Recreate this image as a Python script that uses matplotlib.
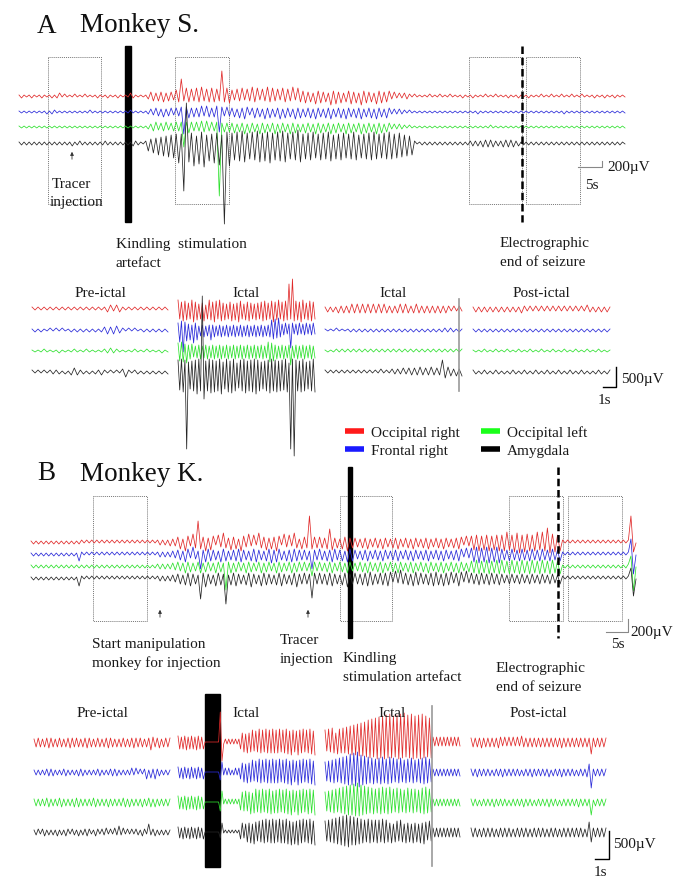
import numpy as np
import matplotlib
matplotlib.use('Agg')
import matplotlib.pyplot as plt
from matplotlib.patches import Rectangle

plt.rcParams['font.family'] = ['Liberation Serif', 'DejaVu Serif']

COLORS = ['#e02a2a', '#2a2ad8', '#2ee02e', '#262626']
LEGEND_COLORS = ['#ff1a1a', '#1a1aff', '#1aff1a', '#000000']
CHANNELS = ['Occipital right', 'Frontal right', 'Occipital left', 'Amygdala']
WINDOW_LABELS = ['Pre-ictal', 'Ictal', 'Ictal', 'Post-ictal']

# Each character is one peak of a trace: its height in pixels (base 36, 'a' = 10).
# Even peaks point up, odd peaks point down.
# Spikes: (channel, peak index, signed height) override single peaks.

# ---- Monkey S., whole recording (red, blue, green, black), 240 peaks each
A_LONG = [
    "12111211121112123121" "11211121111211121112" "1" "1113211111"
    "345354635446" "675867586957686759687" "6475847596847596857486759486"
    "57463857463958473658473957463857465" "34232332121"
    "11112111211121111211" "12111121112111121112" "11121111211121112111"
    "21112111121112111211" "11",
    "11111111111212211111" "11111111211111111111" "1" "1112111111"
    "233443534434" "454564545646545645454" "4536475346453746354736453746"
    "35463745364735463745364735463745364" "23232212111"
    "11111111111111111111" "11121111111111111111" "11111111111111111211"
    "11111111111111111111" "11",
    "11111111111111111111" "11111111111111111111" "1" "1111111111"
    "234534453445" "454565454656454564545" "4635473645374635473645374635"
    "36453746354736453746354736453746354" "23232212111"
    "11111111111111111111" "11111111211111111111" "11111111111111111111"
    "11111111111111111111" "11",
    "12121212121212121212" "13122212121212221212" "1" "2121322112"
    "84a5c6d7e8f9" "k9m8jan7lbo8i9kam8lbn" "ahbicjagbhcjaibkahbicjagbhdj"
    "9gahbf9hagbi8g9haf9gbh8f9gahbg9fagb" "g9fae8d7c21"
    "12121212121212121212" "23232434342324343423" "12121212121212121212"
    "12121212121212121212" "11",
]
A_LONG_SPIKES = [(0, 64, 17), (0, 80, 25), (1, 65, -22), (1, 79, -20),
                 (2, 65, -20), (2, 79, -69), (3, 65, -48), (3, 66, 40),
                 (3, 81, -81)]

# ---- Monkey S., four 1 s-scale windows
A_PRE = [
    "2121212121212121212121212342432121212121212121",
    "1212112121211212121212123434432121211212121212",
    "1111211112111121112111112232211111211121111211",
    "2121212222121343221212232121213521221212121212",
]
A_ICTAL1 = [
    "9a7c8b6a9d" "7b5a6c4a9b" "7d8a9c6b5a" "7c5b6d8a5b"
    "7c6a5b6a7c" "8b6a8d7b9a" "7c8b6a9c8b" "7d9a6b8c7a",
    "7c9e8b6a5d" "7a4657465a" "5746574657" "4657465746"
    "5746574657" "4657a9b8c7" "6574657465" "7465746574",
    "8a9b7c6876" "5768576857" "6857685768" "5768576857"
    "6857685768" "579b8a6857" "6857685768" "5768576857",
    "cidkcjahbj" "cmdj9fbjdl" "ckbjdmahdk" "bldj9gcjdl"
    "bjckdmcjah" "bjcldjckbj" "cidk9fdlcj" "bkdjahbjdk",
]
A_ICTAL1_SPIKES = [(0, 64, 25), (0, 66, 30), (1, 3, -22), (1, 65, -18),
                   (2, 65, -14), (3, 5, -77), (3, 14, 76), (3, 15, -27),
                   (3, 65, -77), (3, 67, -84)]
A_ICTAL2 = [
    "2323243434545454545454543434545434543434343434323232",
    "1111211112121212121212121212121212121212122222121",
    "1111212121212121212121212121212121212121212121212",
    "21212121212121212121312132324243435343534354543434",
]
A_ICTAL2_SPIKES = [(3, 42, 12), (3, 43, -6)]
A_POST = [
    "2323232323232323243232323232323232323232432323232",
    "1212121212121212121212121212121212121212121212121",
    "1111211121112111211121112111211121112111211121111",
    "2212221222121222122212221222122212221222121222122",
]

# ---- Monkey K., whole recording, 240 peaks each
B_LONG = [
    "12121212121212121212" "21212121212121212121" "2121212121" "23232434"
    "57396486375948637596" "48573965847396584759" "6385749637" "564756"
    "56475846375946" "45364735463745364735" "46374536473546374536" "475364"
    "687968796879" "79a87a9b7a8979a8a97b8a79" "21212121212121212121212121"
    "2121",
    "12121212121212121217" "21212121212121212121" "2121212121" "23232334"
    "46385475364857463857" "36475846375846375948" "5637485746" "463746"
    "56374856473857" "45364735463745364735" "46374536473546374536" "475364"
    "687968796879" "564756475647564756475647" "21212121212121212121212121"
    "2121",
    "12121212121212121212" "12121212121212121212" "1212121212" "23232334"
    "45374635473645374635" "47364537463547364537" "4635473645" "453645"
    "45364735463745" "35463745364735463745" "36473546374536473546" "374536"
    "576857685768" "675867586758675867586758" "12121212121212121212121212"
    "2121",
    "12121212121212121218" "21212121212121212121" "2121212121" "23232334"
    "46375846375946385746" "37584637594638574637" "5846375946" "564756"
    "56475846375946" "56475867465758647586" "57486756475867485765" "586475"
    "564756475647" "453645364536453645364536" "21212121212121212121212121"
    "2121",
]
B_LONG_SPIKES = [(0, 66, 21), (0, 110, 26), (0, 118, 13), (0, 204, 14),
                 (1, 67, -15), (1, 111, -15), (2, 77, -24), (2, 111, -10),
                 (3, 67, -21), (3, 77, -26), (3, 111, -20),
                 (0, 237, 26), (0, 238, -10), (1, 237, 15), (1, 238, -20),
                 (2, 237, 10), (2, 238, -25), (3, 237, 10), (3, 238, -18)]

# ---- Monkey K., four 1 s-scale windows
B_PRE = [
    "3545354645" "3545354645" "4535464535" "4535464535" "3545354645" "4535485546" "35454",
    "2323233434" "2323342323" "2434232323" "3423233434" "2323234342" "3237263734" "23232",
    "3434344534" "3445343435" "4534343445" "3434353434" "3445353434" "3534453534" "34343",
    "2332342323" "2423243233" "2423343224" "3233423243" "6342323233" "2432833423" "23232",
]
B_ICTAL1 = [
    "6757685767586757" "000000000" "22" "2323232323"
    "79a8b9ac9b" "adbcadbcbd" "bcbdacbdcb" "dcabdcbdac" "bdcbd",
    "5647564756475647" "000000000" "8a" "3434323434"
    "79a8b9ac9b" "adbcadbcbd" "bcbdacbdcb" "dcabdcbdac" "bdcbd",
    "6757685767586757" "000000000" "9b" "2323232323"
    "8a9b9ac9bd" "acbdacbdcb" "bcbdacbdcb" "dcabdcbdac" "cdbcd",
    "5647564756475647" "000000000" "69" "1212121212"
    "7968a9b8ca" "9bacbdacbd" "bcadbcbdcb" "dacbdcbdac" "bdcbd",
]
B_ICTAL1_SPIKES = [(0, 25, 30), (0, 26, -19)]
B_ICTAL2 = [
    "c9daeb9cdb" "ebfcgdhdie" "jekfmgnfoh" "pgqhrgsgqf" "rhsgtfrgsh" "qgrhsgqfog"
    "5454545454545454",
    "a9bacbdaeb" "fcgdidjekf" "hdgcfbecdb" "ecfbdcfbea" "dbeacbdaeb" "cadbecfbda"
    "3434343434343434",
    "a9bacbdaeb" "fcgdhdieje" "hdgcfbecdb" "ecfbecfbda" "ebdacbeadb" "dacbecfbda"
    "3434343434343434",
    "b9cadbecfd" "gehfgdfdec" "dbcadbcacb" "cadbca9b8a" "b9ca8b9a8b" "9a8b9ca8b9"
    "4545454545454545",
]
B_POST = [
    "4545464545" "4546545454" "5454654545" "4545454545" "4546454545" "4545454545" "45454",
    "3435343434" "2434353434" "3434243435" "3434343524" "3435343434" "2434353434" "34343",
    "3434243434" "3534343424" "3434353434" "2434343534" "3424343434" "3534343424" "34343",
    "4545354545" "4535454545" "3545454535" "4545453545" "4535454545" "4545354545" "45454",
]
B_POST_SPIKES = [(0, 57, -12), (1, 56, 8), (1, 57, -16), (2, 57, -13),
                 (3, 56, 10), (3, 57, -10)]


def draw_trace(ax, peaks, x0, x1, y0, color, spikes=()):
    amp = np.array([int(c, 36) for c in peaks], dtype=float)
    sign = np.where(np.arange(len(amp)) % 2 == 0, -1.0, 1.0)
    y = y0 + sign * amp
    for i, v in spikes:
        y[i] = y0 - v
    x = np.linspace(x0, x1, len(amp))
    ax.plot(x, y, color=color, lw=0.55)


def draw_group(ax, traces, x0, x1, baselines, spikes=()):
    for ch, s in enumerate(traces):
        sp = [(i, v) for c, i, v in spikes if c == ch]
        draw_trace(ax, s, x0, x1, baselines[ch], COLORS[ch], sp)


def dotted_box(ax, x0, y0, x1, y1):
    ax.add_patch(Rectangle((x0, y0), x1 - x0, y1 - y0, fill=False,
                           ec='#777777', lw=0.7, ls=(0, (1, 1))))


def up_arrow(ax, x, y_tip, y_tail):
    ax.annotate('', xy=(x, y_tip), xytext=(x, y_tail),
                arrowprops=dict(arrowstyle='-|>', lw=0.6, color='#333333',
                                mutation_scale=5))


fig = plt.figure(figsize=(6.86, 8.78), dpi=100)
ax = fig.add_axes([0, 0, 1, 1])
ax.set_xlim(0, 686)
ax.set_ylim(878, 0)
ax.axis('off')

TXT = dict(fontsize=11, color='#1a1a1a')
BIG = dict(fontsize=19.5, color='#111111')

# ================= panel A =================
ax.text(37, 33, 'A', **BIG)
ax.text(80, 32, 'Monkey S.', **BIG)
for bx in [(48, 101), (175, 229), (469, 522), (526, 580)]:
    dotted_box(ax, bx[0], 58, bx[1], 205)
draw_group(ax, A_LONG, 19, 625, [97, 113, 128, 144], A_LONG_SPIKES)
ax.add_patch(Rectangle((125, 47), 5.5, 176, color='black'))
ax.plot([522, 522], [47, 223], color='black', lw=1.8, ls=(0, (3, 1.5)))

up_arrow(ax, 72, 150, 163)
ax.text(52, 188, 'Tracer', **TXT)
ax.text(50, 206, 'injection', **TXT)
ax.text(116, 248, 'Kindling  stimulation', **TXT)
ax.text(116, 267, 'artefact', **TXT)
ax.text(500, 247, 'Electrographic', **TXT)
ax.text(500, 266, 'end of seizure', **TXT)

ax.plot([578, 602, 602], [168, 168, 162], color='#888888', lw=0.8)
ax.text(607, 171, '200µV', **TXT)
ax.text(585, 189, '5s', **TXT)

a_windows = [(32, 168), (178, 315), (325, 462), (473, 610)]
a_base = [310, 331, 352, 373]
for (x0, x1), traces, sp, lab in zip(
        a_windows, [A_PRE, A_ICTAL1, A_ICTAL2, A_POST],
        [(), A_ICTAL1_SPIKES, A_ICTAL2_SPIKES, ()], WINDOW_LABELS):
    draw_group(ax, traces, x0, x1, a_base, sp)
    ax.text((x0 + x1) / 2, 297, lab, ha='center', **TXT)
ax.plot([459, 459], [300, 392], color='#999999', lw=1.2)
ax.plot([603, 616, 616], [388, 388, 368], color='black', lw=1.0)
ax.text(621, 383, '500µV', **TXT)
ax.text(598, 404, '1s', **TXT)

# legend
for ch, (lx, ly) in enumerate([(345, 432), (345, 450), (481, 432), (481, 450)]):
    ax.plot([lx, lx + 19], [ly, ly], color=LEGEND_COLORS[ch],
            lw=4, solid_capstyle='butt')
    ax.text(lx + 26, ly + 5, CHANNELS[ch], **TXT)

# ================= panel B =================
ax.text(37, 480, 'B', **BIG)
ax.text(80, 481, 'Monkey K.', **BIG)
for bx in [(93, 147), (340, 392), (509, 563), (568, 622)]:
    dotted_box(ax, bx[0], 497, bx[1], 622)
draw_group(ax, B_LONG, 31, 636, [543, 555, 567, 579], B_LONG_SPIKES)
ax.add_patch(Rectangle((348, 468), 4, 171, color='black'))
ax.plot([558, 558], [468, 639], color='black', lw=1.8, ls=(0, (3, 1.5)))

up_arrow(ax, 160, 608, 621)
up_arrow(ax, 308, 608, 621)
ax.text(92, 648, 'Start manipulation', **TXT)
ax.text(92, 667, 'monkey for injection', **TXT)
ax.text(280, 644, 'Tracer', **TXT)
ax.text(280, 663, 'injection', **TXT)
ax.text(343, 662, 'Kindling', **TXT)
ax.text(343, 681, 'stimulation artefact', **TXT)
ax.text(496, 672, 'Electrographic', **TXT)
ax.text(496, 691, 'end of seizure', **TXT)

ax.plot([606, 628, 628], [633, 633, 620], color='#888888', lw=0.8)
ax.text(630, 636, '200µV', **TXT)
ax.text(611, 648, '5s', **TXT)

b_windows = [(34, 170), (178, 315), (325, 460), (471, 606)]
b_base = [743, 773, 803, 833]
for (x0, x1), traces, sp, lab in zip(
        b_windows, [B_PRE, B_ICTAL1, B_ICTAL2, B_POST],
        [(), B_ICTAL1_SPIKES, (), B_POST_SPIKES], WINDOW_LABELS):
    draw_group(ax, traces, x0, x1, b_base, sp)
    ax.text((x0 + x1) / 2, 717, lab, ha='center', **TXT)
ax.add_patch(Rectangle((205, 695), 15, 173, color='black'))
ax.plot([432, 432], [707, 867], color='#999999', lw=1.2)
ax.plot([595, 609, 609], [860, 860, 832], color='black', lw=1.0)
ax.text(613, 848, '500µV', **TXT)
ax.text(594, 876, '1s', **TXT)

fig.savefig('out.png', dpi=100)
